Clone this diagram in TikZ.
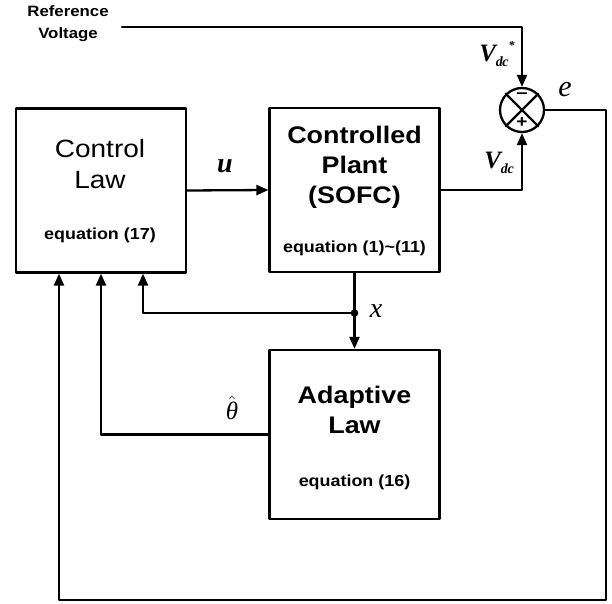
\documentclass[tikz,border=0pt]{standalone}
\usepackage{fontspec}
\setmainfont[FakeStretch=1.12]{Liberation Sans}
\newfontfamily\lblfont{Liberation Serif}
\usetikzlibrary{arrows.meta}

\begin{document}
\begin{tikzpicture}[x=1pt,y=1pt,line cap=round,line join=round,line width=2.3pt,>={Triangle[length=12pt,width=10pt]}]
			\tikzset{block/.style={draw,minimum width=170pt,minimum height=164pt,inner sep=0pt},
				head/.style={align=center,font=\fontsize{24}{30}\selectfont\bfseries},
				eqn/.style={font=\fontsize{16}{18}\selectfont\bfseries},
				sig/.style={font=\fontsize{26}{30}\selectfont\lblfont\itshape}}
			\useasboundingbox (0,0) rectangle (612,603);
			\node[block] (cl) at (101,412.5) {};
			\node[block] (plant) at (354.5,413) {};
			\node[block,minimum height=169pt] (adapt) at (354.5,168.5) {};
			\node[circle,draw,minimum size=44pt,inner sep=0pt] (sum) at (522,493) {};
			\draw (sum.north west)--(sum.south east) (sum.north east)--(sum.south west);
			\node[font=\fontsize{18}{18}\selectfont\bfseries] (minus) at (522,507) {\textendash};
			\node[font=\fontsize{17}{17}\selectfont\bfseries] (plus) at (522,480) {+};
			% texts in the blocks
			\node[head,font=\fontsize{25}{31}\selectfont] (clt) at (100,439) {Control\\Law};
			\node[eqn] (cle) at (100,368) {equation (17)};
			\node[head] (plantt) at (354.5,436) {Controlled\\Plant\\(SOFC)};
			\node[eqn] (plante) at (354.5,355) {equation (1)\textasciitilde(11)};
			\node[head] (adaptt) at (354.5,193) {Adaptive\\Law};
			\node[eqn] (adapte) at (354.5,121) {equation (16)};
			\node[align=center,font=\fontsize{15}{22}\selectfont\bfseries] (ref) at (68,579) {Reference\\Voltage};
			% signals
			\coordinate (vref) at (122,576);
			\coordinate (xj) at (354.5,290);
			\coordinate (eR) at (606,3);
			\draw[->] (vref) -| (sum.north);
			\draw[->] (plant.east) -| (sum.south);
			\draw[->] (cl.east)--(plant.west);
			\draw[->] (plant.south)--(adapt.north);
			\fill (xj) circle (3.8pt);
			\draw[->] (xj) -| ([xshift=42pt]cl.south);
			\draw[->] (adapt.west) -| (cl.south);
			\draw[->] (sum.east) -| (eR) -| ([xshift=-42pt]cl.south);
			% labels
			\node[sig,font=\fontsize{28}{30}\selectfont\lblfont\bfseries\itshape] (lu) at (225,437) {u};
			\node[sig,font=\fontsize{28}{30}\selectfont\lblfont\itshape] (lx) at (376,292) {x};
			\node[sig,font=\fontsize{30}{30}\selectfont\lblfont\itshape] (le) at (565,513) {e};
			\node[sig,font=\fontsize{25}{30}\selectfont\lblfont\bfseries\itshape] (lvref) at (497,549) {V\raisebox{-5pt}{\fontsize{14}{14}\selectfont d\kern-0.5pt c}\raisebox{12pt}{\fontsize{12}{12}\selectfont*}};
			\node[sig,font=\fontsize{25}{30}\selectfont\lblfont\bfseries\itshape] (lvdc) at (499,440) {V\raisebox{-5pt}{\fontsize{14}{14}\selectfont d\kern-0.5pt c}};
			\node[sig] (lth) at (232,195) {$\hat{\hbox{\fontsize{25}{30}\selectfont\lblfont\itshape θ}}$};
		\end{tikzpicture}
\end{document}
